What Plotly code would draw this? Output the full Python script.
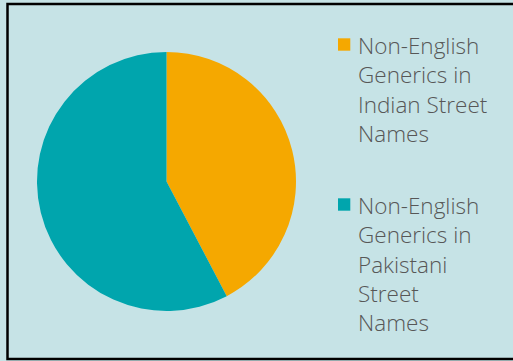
import plotly.graph_objects as go

labels = ["Non-English Generics in Indian Street Names",
          "Non-English Generics in Pakistani Street Names"]
legend_lines = [["Non-English", "Generics in", "Indian Street", "Names"],
                ["Non-English", "Generics in", "Pakistani", "Street", "Names"]]
values = [42.3, 57.7]
colors = ["#F5A800", "#00A5AD"]

W, H = 513, 361
BG = "#c6e3e6"
TXT = "#575757"

fig = go.Figure(go.Pie(
    labels=labels, values=values, sort=False, direction="clockwise", rotation=0,
    marker=dict(colors=colors, line=dict(width=0)),
    textinfo="none", hoverinfo="label+percent", showlegend=False,
    domain=dict(x=[37 / W, 296 / W], y=[(H - 311) / H, (H - 52) / H]),
))

def px(x):
    return x / W

def py(y):
    return 1 - y / H

item_tops = [38.3, 198.3]
for lines, col, top in zip(legend_lines, colors, item_tops):
    fig.add_shape(type="rect", xref="paper", yref="paper",
                  x0=px(338), x1=px(350.3), y0=py(top), y1=py(top + 12.4),
                  fillcolor=col, line=dict(width=0))
    fig.add_annotation(xref="paper", yref="paper", x=px(356), y=py(top - 10.5),
                       xanchor="left", yanchor="top", align="left", showarrow=False,
                       text="<br>".join(lines),
                       font=dict(family="Open Sans", size=22.5, color=TXT, weight=300))

fig.add_shape(type="rect", xref="paper", yref="paper",
              x0=px(7.5), x1=px(530), y0=py(359), y1=py(4),
              line=dict(color="black", width=2.5), fillcolor="rgba(0,0,0,0)", layer="above")

fig.update_layout(width=W, height=H, margin=dict(l=0, r=0, t=0, b=0),
                  paper_bgcolor=BG, plot_bgcolor=BG)
fig.write_html("out.html")
